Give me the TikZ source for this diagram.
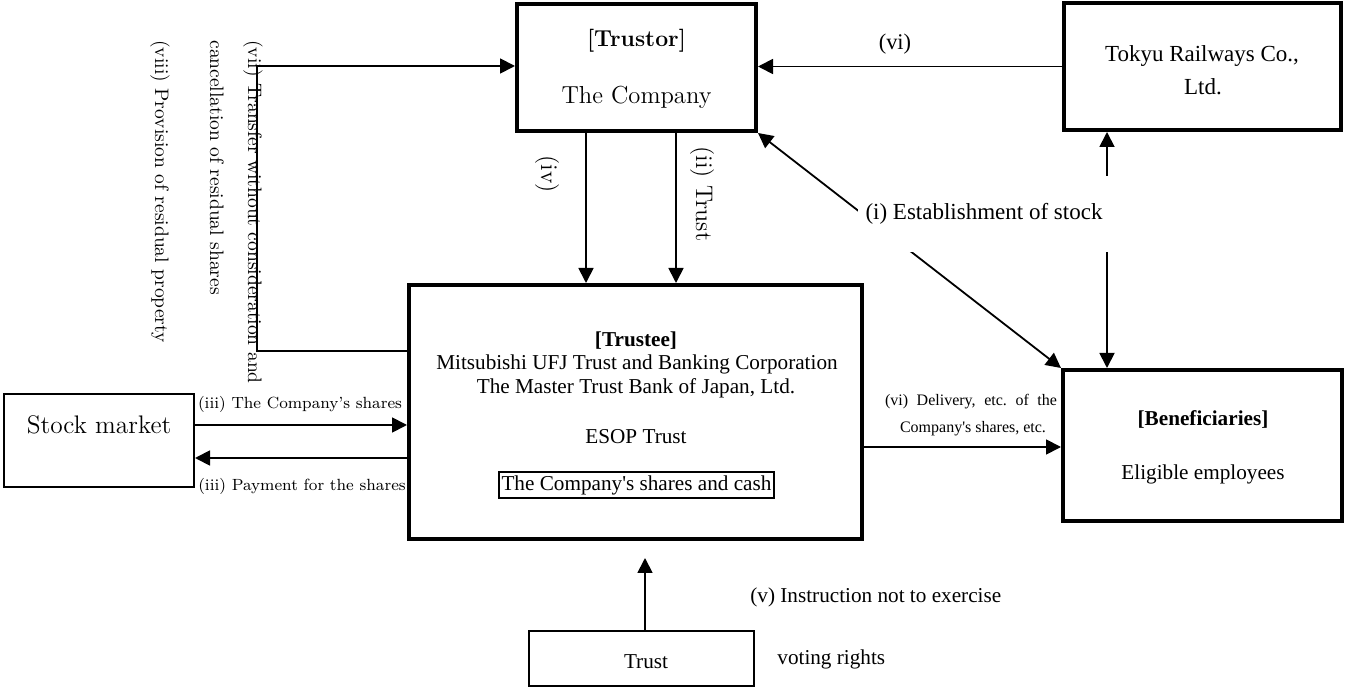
\documentclass[tikz,border=0pt]{standalone}
\usepackage{fontspec}
\newfontfamily\tnr{Liberation Serif}
\usetikzlibrary{arrows.meta}
\frenchspacing
\newcommand{\tms}[1]{\tnr\fontsize{#1}{#1}\selectfont}
\newcommand{\lms}[1]{\fontsize{#1}{#1}\selectfont}
\begin{document}
\begin{tikzpicture}[x=0.5pt,y=-0.5pt,
  bigbox/.style={draw, line width=2.2pt, inner sep=0},
  smallbox/.style={draw, line width=1pt, inner sep=0},
  arr/.style={line width=0.9pt, -{Triangle[length=7.5pt,width=7.5pt]}},
  darr/.style={line width=0.9pt, {Triangle[length=7.5pt,width=7.5pt]}-{Triangle[length=7.5pt,width=7.5pt]}},
  lbl/.style={inner sep=0},
  vlbl/.style={inner sep=0, rotate=-90},
]
\useasboundingbox (0,0) rectangle (1345,689);

% boxes
\node[bigbox, minimum width=119.3pt, minimum height=63.3pt] (comp) at (636.5,67.5) {};
\node[bigbox, minimum width=138.3pt, minimum height=63.3pt] (tokyu) at (1202.5,66.5) {};
\node[bigbox, minimum width=226.3pt, minimum height=126.8pt] (trustee) at (635.5,412) {};
\node[bigbox, minimum width=139.3pt, minimum height=75.3pt] (benef) at (1202.5,445.5) {};
\node[smallbox, minimum width=95pt, minimum height=46.5pt] (stock) at (99,440.5) {};
\node[smallbox, minimum width=112.5pt, minimum height=27.5pt] (trust) at (641.5,658.5) {};

% texts in boxes
\node[lbl, font=\lms{11.5}\bfseries] (trustorT) at (636.5,41) {[Trustor]};
\node[lbl, font=\lms{12.3}] (compT) at (636.5,97) {The Company};
\node[lbl, font=\tms{11.5}] (tokyuT1) at (1202,56) {Tokyu Railways Co.,};
\node[lbl, font=\tms{11.5}] (tokyuT2) at (1203,87) {Ltd.};
\node[lbl, font=\tms{10.6}\bfseries] (trusteeT) at (636,341) {[Trustee]};
\node[lbl, font=\tms{10.6}] (mufg) at (637,364) {Mitsubishi UFJ Trust and Banking Corporation};
\node[lbl, font=\tms{10.6}] (mtbj) at (636,388) {The Master Trust Bank of Japan, Ltd.};
\node[lbl, font=\tms{10.6}] (esop) at (636,437) {ESOP Trust};
\node[draw, line width=1pt, inner xsep=1.2pt, inner ysep=0pt, minimum height=13pt, font=\tms{10.6}] (shares) at (636.5,485) {The Company's shares and cash};
\node[lbl, font=\tms{10.6}\bfseries] (benefT) at (1203,419) {[Beneficiaries]};
\node[lbl, font=\tms{10.6}] (benefE) at (1203,474) {Eligible employees};
\node[lbl, font=\lms{12.7}] (stockT) at (99,425) {Stock market};
\node[lbl, font=\tms{10.6}] (trustT) at (646,662) {Trust};

% coordinates
\coordinate (b1) at (257,66);
\coordinate (b2) at (257,351);
\coordinate (c1) at (586,0);
\coordinate (c2) at (676,0);
\coordinate (s1) at (0,425);
\coordinate (s2) at (0,458);
\coordinate (d1) at (0,447);
\coordinate (v1) at (1107,0);
\coordinate (t1) at (645,558);

% connectors
\draw[arr] (trustee.west |- b2) -- (b2) -- (b1) -- (comp.west |- b1);
\draw[arr] (tokyu.west) -- (comp.east |- tokyu.west);
\draw[arr] (comp.south -| c1) -- (trustee.north -| c1);
\draw[arr] (comp.south -| c2) -- (trustee.north -| c2);
\draw[darr] (comp.south east) -- (benef.north west);
\draw[darr] (tokyu.south -| v1) -- (benef.north -| v1);
\draw[arr] (stock.east |- s1) -- (trustee.west |- s1);
\draw[arr] (trustee.west |- s2) -- (stock.east |- s2);
\draw[arr] (trustee.east |- d1) -- (benef.west |- d1);
\draw[arr] (trust.north -| t1) -- (t1);

% label covering the crossing lines
\node[fill=white, inner sep=0, minimum width=126pt, minimum height=38pt, font=\tms{11.5}] (est) at (984,214) {\raisebox{-4pt}{(i) Establishment of stock}};

% other labels
\node[lbl, font=\tms{11.2}] (lvi) at (895,44) {(vi)};
\node[vlbl, font=\lms{12}] (liv) at (547,174) {(iv)};
\node[vlbl, font=\lms{12}] (lii) at (702,194) {(ii) Trust};
\node[vlbl, anchor=west, font=\lms{9.75}] (lvii) at (253,40) {(vii) Transfer without consideration and};
\node[vlbl, anchor=west, font=\lms{9.75}] (lvii2) at (217,40) {cancellation of residual shares};
\node[vlbl, anchor=west, font=\lms{9.75}] (lviii) at (160,40) {(viii) Provision of residual property};
\node[lbl, font=\lms{8.1}] (liii1) at (300,404) {(iii) The Company's shares};
\node[lbl, font=\lms{8.1}] (liii2) at (302,486) {(iii) Payment for the shares};
\node[lbl, font=\tms{8}] (ldel1) at (971,402) {\makebox[86pt][s]{(vi) Delivery, etc. of the}};
\node[lbl, font=\tms{8}] (ldel2) at (973,429) {Company's shares, etc.};
\node[lbl, anchor=west, font=\tms{10.6}] (lv) at (750,597) {(v) Instruction not to exercise};
\node[lbl, anchor=west, font=\tms{10.6}] (lvote) at (777,659) {voting rights};
\end{tikzpicture}
\end{document}
